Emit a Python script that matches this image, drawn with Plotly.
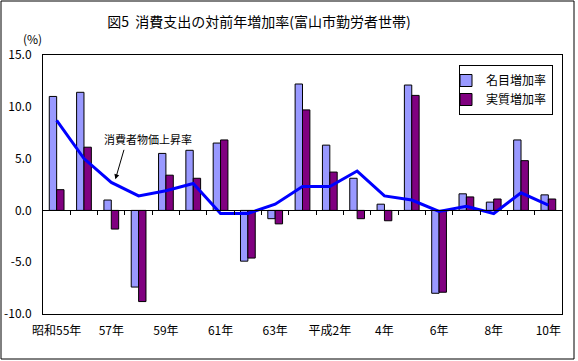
import plotly.graph_objects as go

categories = ["昭和55年", "56年", "57年", "58年", "59年", "60年", "61年", "62年", "63年",
              "平成元年", "平成2年", "3年", "4年", "5年", "6年", "7年", "8年", "9年", "10年"]
tick_labels = ["昭和55年", "", "57年", "", "59年", "", "61年", "", "63年",
               "", "平成2年", "", "4年", "", "6年", "", "8年", "", "10年"]
nominal = [11.0, 11.4, 1.0, -7.4, 5.5, 5.8, 6.5, -4.9, -0.8, 12.2, 6.3, 3.1, 0.6, 12.1,
           -8.0, 1.6, 0.8, 6.8, 1.5]
real = [2.0, 6.1, -1.8, -8.8, 3.4, 3.1, 6.8, -4.6, -1.3, 9.7, 3.7, -0.8, -1.0, 11.1,
        -7.9, 1.3, 1.1, 4.8, 1.1]
cpi = [8.7, 5.0, 2.7, 1.4, 1.9, 2.6, -0.3, -0.3, 0.6, 2.3, 2.3, 3.8, 1.4, 1.0,
       -0.1, 0.4, -0.3, 1.7, 0.5]
y_ticks = [15, 10, 5, 0, -5, -10]

idx = list(range(len(categories)))
font = "Noto Sans CJK JP"

fig = go.Figure()
fig.add_trace(go.Bar(x=idx, y=nominal, name="名目増加率",
                     marker=dict(color="#9999FF", line=dict(color="black", width=1))))
fig.add_trace(go.Bar(x=idx, y=real, name="実質増加率",
                     marker=dict(color="#800080", line=dict(color="black", width=1))))
fig.add_trace(go.Scatter(x=idx, y=cpi, mode="lines", showlegend=False,
                         line=dict(color="#0000FF", width=3)))

L, R, T, B = 43, 16, 55, 47
W, H = 578, 361
pw, ph = W - L - R, H - T - B

def px_x(p):
    return (p - L) / pw

def px_y(p):
    return (H - B - p) / ph

fig.update_layout(
    width=W, height=H,
    margin=dict(l=L, r=R, t=T, b=B, autoexpand=False),
    paper_bgcolor="white", plot_bgcolor="white",
    font=dict(family=font, size=12, color="black"),
    barmode="group", bargap=0.46, bargroupgap=0,
    title=dict(text="図5  消費支出の対前年増加率(富山市勤労者世帯)", x=259 / W, xanchor="center",
               y=1 - 22.5 / H, yanchor="middle", xref="container", yref="container",
               font=dict(family=font, size=14, color="black")),
    xaxis=dict(range=[-0.5, len(categories) - 0.5], tickmode="array", tickvals=idx,
               ticktext=tick_labels, showgrid=False, zeroline=False,
               showline=True, linecolor="black", linewidth=1, mirror=True,
               ticks="", ticklabelstandoff=6, tickfont=dict(size=12)),
    xaxis2=dict(range=[-0.5, len(categories) - 0.5], overlaying="x", anchor="free",
                position=0.4, side="bottom", showline=True, linecolor="black", linewidth=1,
                tickmode="array", tickvals=[i + 0.5 for i in idx[:-1]], ticks="outside",
                ticklen=4, tickcolor="black", showticklabels=False, showgrid=False,
                zeroline=False),
    yaxis=dict(range=[-10, 15], tickmode="array", tickvals=y_ticks,
               ticktext=[f"{v:.1f}" for v in y_ticks], showgrid=False, zeroline=False,
               showline=True, linecolor="black", linewidth=1, mirror=True,
               ticks="", ticklabelstandoff=8, tickfont=dict(size=12)),
    legend=dict(x=px_x(553), y=px_y(65), xanchor="right", yanchor="top",
                bordercolor="black", borderwidth=1, bgcolor="white",
                font=dict(family=font, size=12), itemwidth=30, tracegroupgap=0,
                traceorder="normal", indentation=-14),
    showlegend=True,
)

# dummy trace on xaxis2 so it renders
fig.add_trace(go.Scatter(x=[None], y=[None], xaxis="x2", showlegend=False, hoverinfo="skip"))

fig.add_annotation(text="(%)", xref="paper", yref="paper", x=px_x(32), y=px_y(39),
                   xanchor="center", yanchor="middle", showarrow=False, font=dict(size=12))
fig.add_annotation(text="消費者物価上昇率", xref="paper", yref="paper", x=px_x(148), y=px_y(139),
                   xanchor="center", yanchor="middle", showarrow=False, font=dict(size=11))
fig.add_annotation(text="", x=2.15, y=3.0, xref="x", yref="y", ax=9, ay=-31,
                   showarrow=True, arrowhead=2, arrowsize=1, arrowwidth=1, arrowcolor="black")

fig.add_shape(type="rect", xref="paper", yref="paper", x0=px_x(1), x1=px_x(574),
              y0=px_y(359), y1=px_y(1), line=dict(color="black", width=1), layer="below")

fig.write_html("out.html", config={"displayModeBar": False},
               post_script="document.body.style.margin='0px';")
